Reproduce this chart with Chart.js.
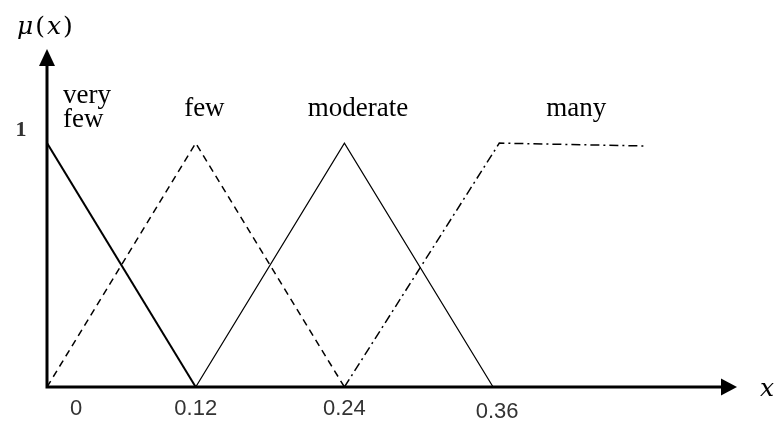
<!DOCTYPE html>
<html lang="en">
<head>
  <meta charset="UTF-8" />
  <title>Membership functions</title>
  <script src="https://cdn.jsdelivr.net/npm/chart.js"></script>
  <style>
    body {
      margin: 0;
      padding: 0;
      background-color: #ffffff;
    }

    .wrap {
      width: 775px;
      height: 421px;
    }
  </style>
</head>
<body>
  <div class="wrap">
    <canvas id="muChart" width="775" height="421"></canvas>
  </div>

  <script>
    // membership functions (x, mu)
    const veryFewX = [0, 0.12];
    const veryFewY = [1, 0];
    const fewX = [0, 0.12, 0.24];
    const fewY = [0, 1, 0];
    const moderateX = [0.12, 0.24, 0.36];
    const moderateY = [0, 1, 0];
    const manyX = [0.24, 0.365, 0.484];
    const manyY = [0, 1, 0.988];

    const xTicks = [0, 0.12, 0.24, 0.36];
    const xTickLabels = ["0", "0.12", "0.24", "0.36"];
    const yTicks = [1];
    const yTickLabels = ["1"];

    const termNames = ["very few", "few", "moderate", "many"];
    const termX = [0.013, 0.127, 0.251, 0.427];

    function toPoints(xs, ys) {
      return xs.map((x, i) => ({ x: x, y: ys[i] }));
    }

    // axes with arrow heads, tick labels and term names
    const axesPlugin = {
      id: "axesPlugin",
      afterDatasetsDraw(chart) {
        const c = chart.ctx;
        const xs = chart.scales.x;
        const ys = chart.scales.y;
        const x0 = xs.getPixelForValue(0);
        const y0 = ys.getPixelForValue(0);
        const xEnd = xs.right + 1;
        const yEnd = ys.top + 1;

        c.save();
        c.strokeStyle = "#000";
        c.fillStyle = "#000";
        c.lineWidth = 3;
        c.setLineDash([]);

        c.beginPath();
        c.moveTo(x0, y0);
        c.lineTo(x0, yEnd + 14);
        c.moveTo(x0 - 1.5, y0);
        c.lineTo(xEnd - 14, y0);
        c.stroke();

        // arrow heads
        c.beginPath();
        c.moveTo(x0, yEnd);
        c.lineTo(x0 - 8, yEnd + 17);
        c.lineTo(x0 + 8, yEnd + 17);
        c.closePath();
        c.fill();

        c.beginPath();
        c.moveTo(xEnd, y0);
        c.lineTo(xEnd - 16, y0 - 8.5);
        c.lineTo(xEnd - 16, y0 + 8.5);
        c.closePath();
        c.fill();

        // tick labels
        c.font = "22px 'Liberation Sans Narrow', 'Liberation Sans'";
        c.fillStyle = "#333";
        c.textAlign = "center";
        c.textBaseline = "alphabetic";
        xTicks.forEach((v, i) => {
          let px = xs.getPixelForValue(v);
          let py = y0 + 28;
          if (v === 0) px += 29;
          if (v === 0.36) { px += 4; py += 3; }
          c.fillText(xTickLabels[i], px, py);
        });
        c.font = "bold 22px 'Liberation Serif'";
        yTicks.forEach((v, i) => {
          c.fillText(yTickLabels[i], 21, ys.getPixelForValue(v) - 7);
        });

        // term names
        c.fillStyle = "#000";
        c.font = "27px 'Liberation Serif'";
        const base = ys.getPixelForValue(1.11);
        c.textAlign = "left";
        const vf = termNames[0].split(" ");
        c.fillText(vf[0], xs.getPixelForValue(termX[0]), base - 13);
        c.fillText(vf[1], xs.getPixelForValue(termX[0]), base + 11);
        c.textAlign = "center";
        for (let i = 1; i < termNames.length; i++) {
          c.fillText(termNames[i], xs.getPixelForValue(termX[i]), base);
        }

        // axis names: italic symbols, upright brackets
        c.textAlign = "left";
        const parts = [["\u03bc", true], ["(", false], ["x", true], [")", false]];
        let cx = 17;
        parts.forEach(([s, it]) => {
          c.font = (it ? "italic " : "") + "25px 'DejaVu Serif'";
          c.fillText(s, cx, 34);
          cx += c.measureText(s).width + 2;
        });
        c.font = "italic 25px 'DejaVu Serif'";
        c.fillText("x", 760, y0 + 9);
        c.restore();
      }
    };

    const ctx = document.getElementById("muChart").getContext("2d");

    new Chart(ctx, {
      type: "scatter",
      data: {
        datasets: [
          {
            label: "very few",
            data: toPoints(veryFewX, veryFewY),
            showLine: true,
            borderColor: "#000",
            borderWidth: 2,
            pointRadius: 0
          },
          {
            label: "few",
            data: toPoints(fewX, fewY),
            showLine: true,
            borderColor: "#000",
            borderWidth: 1.5,
            borderDash: [7, 5],
            pointRadius: 0
          },
          {
            label: "moderate",
            data: toPoints(moderateX, moderateY),
            showLine: true,
            borderColor: "#000",
            borderWidth: 1.2,
            pointRadius: 0
          },
          {
            label: "many",
            data: toPoints(manyX, manyY),
            showLine: true,
            borderColor: "#000",
            borderWidth: 1.5,
            borderDash: [9, 4, 2, 4],
            pointRadius: 0
          }
        ]
      },
      options: {
        responsive: false,
        animation: false,
        layout: {
          padding: { left: 47, right: 39, top: 48, bottom: 34 }
        },
        plugins: {
          legend: { display: false },
          tooltip: { enabled: false }
        },
        scales: {
          x: {
            type: "linear",
            display: false,
            min: 0,
            max: 0.556
          },
          y: {
            type: "linear",
            display: false,
            min: 0,
            max: 1.39
          }
        }
      },
      plugins: [axesPlugin]
    });
  </script>
</body>
</html>
